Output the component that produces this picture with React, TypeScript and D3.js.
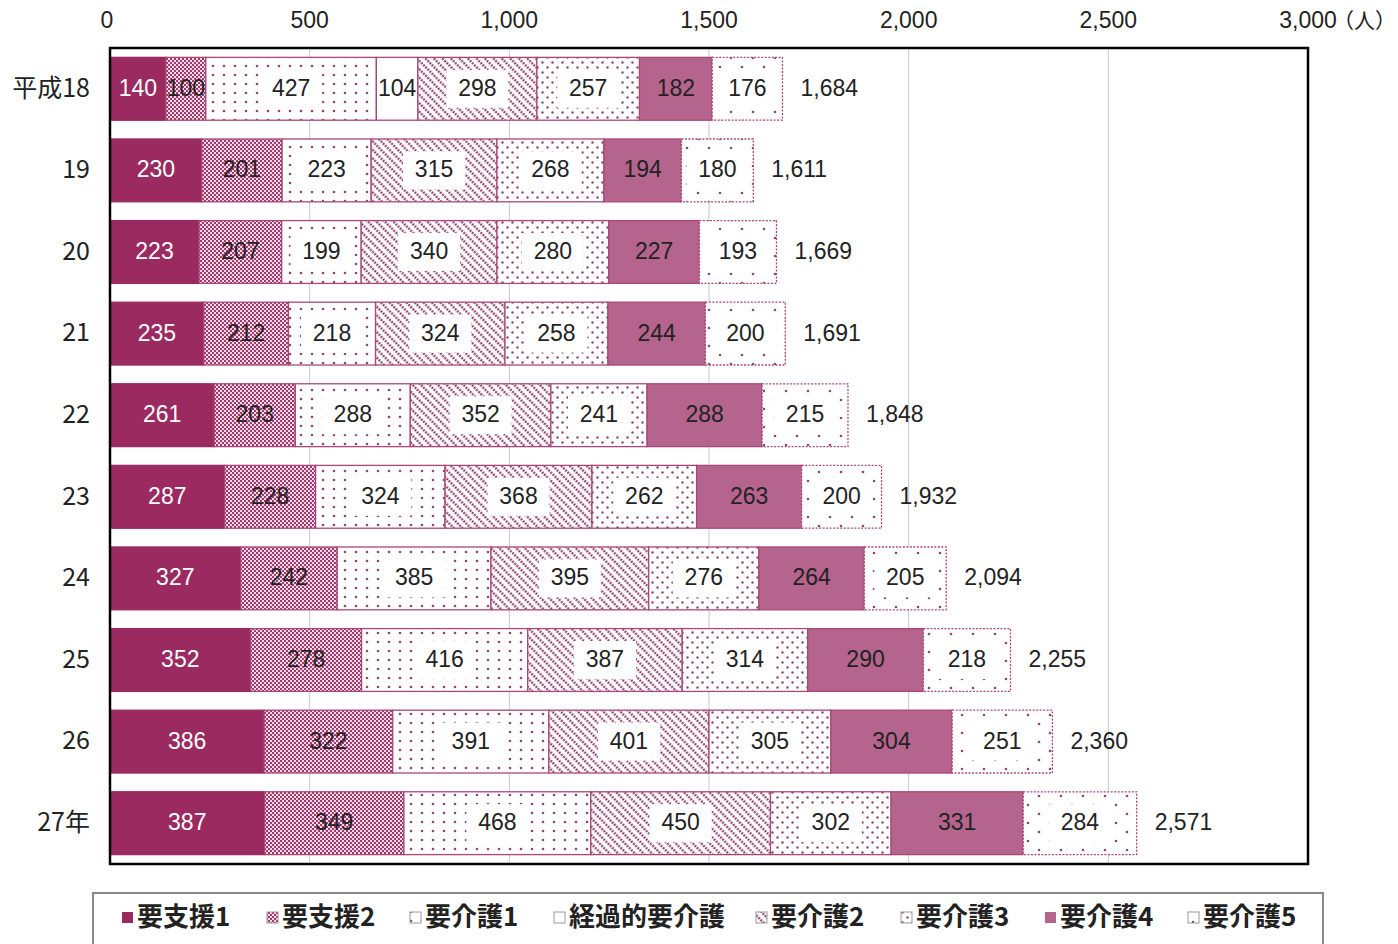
import React from 'react';
import * as d3 from 'd3';

const categories = ['平成18', '19', '20', '21', '22', '23', '24', '25', '26', '27年'];
const seriesNames = ['要支援1', '要支援2', '要介護1', '経過的要介護', '要介護2', '要介護3', '要介護4', '要介護5'];
const shien1 = [140, 230, 223, 235, 261, 287, 327, 352, 386, 387];
const shien2 = [100, 201, 207, 212, 203, 228, 242, 278, 322, 349];
const kaigo1 = [427, 223, 199, 218, 288, 324, 385, 416, 391, 468];
const keika = [104, 0, 0, 0, 0, 0, 0, 0, 0, 0];
const kaigo2 = [298, 315, 340, 324, 352, 368, 395, 387, 401, 450];
const kaigo3 = [257, 268, 280, 258, 241, 262, 276, 314, 305, 302];
const kaigo4 = [182, 194, 227, 244, 288, 263, 264, 290, 304, 331];
const kaigo5 = [176, 180, 193, 200, 215, 200, 205, 218, 251, 284];
const totals = [1684, 1611, 1669, 1691, 1848, 1932, 2094, 2255, 2360, 2571];
const xTicks = [0, 500, 1000, 1500, 2000, 2500, 3000];

const seriesValues = [shien1, shien2, kaigo1, keika, kaigo2, kaigo3, kaigo4, kaigo5];
const fills = ['#9A2A60', 'url(#checker)', 'url(#dots1)', '#ffffff', 'url(#hatch)', 'url(#dots3)', '#B4648D', 'url(#dots5)'];
const labelColors = ['#ffffff', '#222', '#222', '#222', '#222', '#222', '#222', '#222'];
const whiteBox = [false, false, true, false, true, true, false, true];
const legendX = [122, 267, 410, 554, 756, 901, 1045, 1188];

const W = 1398, H = 944;
const plotL = 110, plotR = 1308, plotT = 48, plotB = 864;
const font = '"Liberation Sans", "Noto Sans CJK JP", sans-serif';
const jfont = '"Noto Sans CJK JP", "Liberation Sans", sans-serif';

export default function App() {
  const x = d3.scaleLinear().domain([0, 3000]).range([plotL, plotR]);
  const y = d3.scaleBand<string>().domain(categories).range([plotT, plotB]).paddingInner(0.23).paddingOuter(0.115);
  const rows = categories.map((c, i) => {
    const r: any = { cat: c };
    seriesNames.forEach((s, j) => (r[s] = seriesValues[j][i]));
    return r;
  });
  const stacked = d3.stack<any>().keys(seriesNames)(rows);
  const mag = '#A3386E';
  const dot = '#8E4A6C';
  const fs = 23;

  return (
    <svg width={W} height={H} style={{ position: 'absolute', left: 0, top: 0, background: '#fff' }}>
      <defs>
        <pattern id="checker" width={4} height={4} patternUnits="userSpaceOnUse">
          <rect width={4} height={4} fill="#f3dbe6" />
          <rect width={2} height={2} fill={mag} />
          <rect x={2} y={2} width={2} height={2} fill={mag} />
        </pattern>
        <pattern id="dots1" width={11} height={9} patternUnits="userSpaceOnUse">
          <rect width={11} height={9} fill="#fff" />
          <circle cx={4} cy={3} r={1.3} fill={dot} />
        </pattern>
        <pattern id="hatch" width={6} height={6} patternUnits="userSpaceOnUse" patternTransform="rotate(-45)">
          <rect width={6} height={6} fill="#fff" />
          <line x1={1.5} y1={0} x2={1.5} y2={6} stroke="#8A3060" strokeWidth={2.1} strokeDasharray="2,1" />
        </pattern>
        <pattern id="dots3" width={10} height={10} patternUnits="userSpaceOnUse">
          <rect width={10} height={10} fill="#fff" />
          <circle cx={2.5} cy={2.5} r={1.2} fill={dot} />
          <circle cx={7.5} cy={7.5} r={1.2} fill={dot} />
        </pattern>
        <pattern id="dots5" width={22} height={18} patternUnits="userSpaceOnUse">
          <rect width={22} height={18} fill="#fff" />
          <circle cx={5} cy={4} r={1.3} fill={dot} />
          <circle cx={16} cy={13} r={1.3} fill={dot} />
        </pattern>
      </defs>

      {/* gridlines */}
      {xTicks.slice(1, -1).map((t) => (
        <line key={t} x1={x(t)} x2={x(t)} y1={plotT} y2={plotB} stroke="#c8c8c8" strokeWidth={1} />
      ))}

      {/* tick labels */}
      {xTicks.map((t) => (
        <text key={t} x={x(t) - (t === 0 ? 3 : 0)} y={22} textAnchor="middle" dominantBaseline="middle"
          fontFamily={font} fontSize={fs} fill="#222">{d3.format(',')(t)}</text>
      ))}
      <text x={x(3000) + 25} y={22} dominantBaseline="middle" fontFamily={jfont} fontSize={21} fill="#222">（人）</text>

      {/* bars */}
      {stacked.map((layer, j) => (
        <g key={seriesNames[j]}>
          {layer.map((d, i) => {
            const v = d[1] - d[0];
            if (v <= 0) return null;
            const x0 = x(d[0]), x1 = x(d[1]);
            const yy = y(categories[i])!;
            const bh = y.bandwidth();
            const cx = (x0 + x1) / 2;
            const bw = Math.min(x1 - x0 - 6, 62);
            return (
              <g key={i}>
                <rect x={x0} y={yy} width={x1 - x0} height={bh} fill={fills[j]}
                  stroke={j === 0 ? '#9A2A60' : '#A84878'} strokeWidth={1.3}
                  strokeDasharray={j === 7 ? '2,1.5' : undefined} />
                {whiteBox[j] && (
                  <rect x={cx - bw / 2} y={yy + bh / 2 - 19} width={bw} height={38} fill="#fff" />
                )}
                <text x={cx} y={yy + bh / 2 + 1} textAnchor="middle" dominantBaseline="middle"
                  fontFamily={font} fontSize={fs} fill={labelColors[j]}>{v}</text>
              </g>
            );
          })}
        </g>
      ))}

      {/* totals */}
      {categories.map((c, i) => (
        <text key={c} x={x(totals[i]) + 18} y={y(c)! + y.bandwidth() / 2 + 1} dominantBaseline="middle"
          fontFamily={font} fontSize={fs} fill="#222">{d3.format(',')(totals[i])}</text>
      ))}

      {/* category labels */}
      {categories.map((c) => (
        <text key={c} x={90} y={y(c)! + y.bandwidth() / 2 + 1} textAnchor="end" dominantBaseline="middle"
          fontFamily={jfont} fontSize={25} fill="#222">{c}</text>
      ))}

      {/* plot border */}
      <rect x={plotL} y={plotT} width={plotR - plotL} height={plotB - plotT} fill="none" stroke="#000" strokeWidth={2.5} />

      {/* legend */}
      <rect x={93} y={893} width={1230} height={70} fill="#fff" stroke="#888" strokeWidth={2} />
      {seriesNames.map((s, j) => (
        <g key={s}>
          <rect x={legendX[j]} y={912} width={11} height={11} fill={fills[j]}
            stroke={j === 0 || j === 6 ? 'none' : '#999'} strokeWidth={1} />
          <text x={legendX[j] + 15} y={919} dominantBaseline="middle" fontFamily={jfont} fontSize={26}
            fontWeight={700} fill="#222">{s}</text>
        </g>
      ))}
    </svg>
  );
}
